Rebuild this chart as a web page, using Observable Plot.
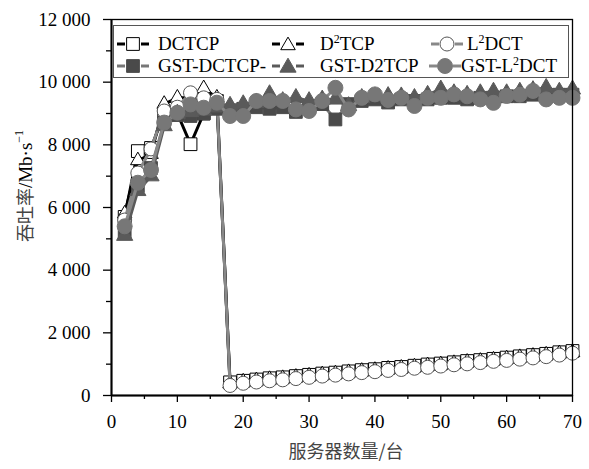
<!DOCTYPE html>
<html><head><meta charset="utf-8">
<script src="https://cdn.jsdelivr.net/npm/d3@7"></script>
<script src="https://cdn.jsdelivr.net/npm/@observablehq/plot@0.6"></script>
<style>
html,body{margin:0;padding:0;background:#fff;}
#wrap{position:relative;width:589px;height:469px;font-family:"Liberation Serif","Times New Roman",Times,"DejaVu Serif",serif;}
#wrap svg text{font-family:"Liberation Serif","Times New Roman",Times,"DejaVu Serif",serif !important;}
.lab{position:absolute;font-size:19px;color:#000;white-space:nowrap;line-height:20px;}
.cjk{color:#444;font-family:"Noto Sans CJK SC",sans-serif;font-size:18px;}
#legend{position:absolute;left:113px;top:25px;width:456px;height:53px;border:1px solid #555;box-sizing:border-box;background:#fff;}
.sym{position:absolute;}
.txt{position:absolute;font-size:19px;line-height:20px;white-space:nowrap;}
sup{font-size:12px;vertical-align:top;line-height:12px;position:relative;top:-1px;}
</style></head>
<body>
<div id="wrap"></div>
<script>
const xs = [2,4,6,8,10,12,14,16,18,20,22,24,26,28,30,32,34,36,38,40,42,44,46,48,50,52,54,56,58,60,62,64,66,68,70];
const seriesNames = ["DCTCP","D²TCP","L²DCT","GST-DCTCP","GST-D2TCP","GST-L²DCT"];
const dctcp  = [5700,7800,7900,9000,9000,8020,9000,9400,420,470,510,550,580,620,660,700,730,770,810,840,880,910,950,990,1020,1060,1100,1130,1170,1210,1250,1290,1330,1380,1420];
const d2tcp  = [5800,7500,7700,9300,9500,9500,9800,9500,380,440,480,520,550,590,630,670,700,740,780,810,850,880,920,960,990,1030,1070,1100,1140,1180,1220,1260,1300,1340,1380];
const l2dct  = [5600,7100,7870,9080,9200,9660,9500,9450,320,390,430,470,500,540,580,620,650,690,730,760,800,830,870,900,940,980,1010,1050,1090,1120,1160,1200,1240,1290,1350];
const gstDctcp = [5200,6700,7260,8700,8950,8920,9000,9150,9100,9150,9200,9150,9200,9050,9200,9300,8810,9300,9400,9450,9350,9450,9400,9450,9500,9500,9450,9500,9500,9550,9550,9600,9550,9600,9600];
const gstD2tcp = [5100,6530,7000,8600,9000,9050,9100,9200,9250,9300,9350,9620,9400,9500,9400,9450,9450,9240,9500,9550,9560,9550,9500,9600,9770,9650,9600,9650,9700,9650,9700,9750,9820,9700,9770];
const gstL2dct = [5400,6790,7200,8710,9025,9290,9185,9345,8920,8920,9400,9400,9400,9130,9080,9400,9820,9130,9500,9610,9430,9500,9240,9500,9500,9610,9550,9450,9340,9560,9600,9720,9450,9500,9500];
const seriesValues = [dctcp,d2tcp,l2dct,gstDctcp,gstD2tcp,gstL2dct];
const xTicks = [0,10,20,30,40,50,60,70];
const xMinor = [5,15,25,35,45,55,65];
const yTicks = [0,2000,4000,6000,8000,10000,12000];
const yMinor = [1000,3000,5000,7000,9000,11000];
const xLabel = "服务器数量/台";

const styles = [
  {symbol:"square",   fill:"#fff",   stroke:"#000", line:"#000",    r:7.2},
  {symbol:"triangle", fill:"#fff",   stroke:"#000", line:"#000",    r:5.4},
  {symbol:"circle",   fill:"#fff",   stroke:"#555", line:"#888",    r:7},
  {symbol:"square",   fill:"#4a4a4a",stroke:"#4a4a4a", line:"#777", r:7.2},
  {symbol:"triangle", fill:"#5a5a5a",stroke:"#5a5a5a", line:"#5a5a5a", r:6},
  {symbol:"circle",   fill:"#777",   stroke:"#777", line:"#888",    r:7.5}
];

const rows = seriesNames.map((name,i)=> xs.map((x,j)=>({series:name, x, y:seriesValues[i][j]})));
const fmt = d3.formatLocale({decimal:".", thousands:" ", grouping:[3], currency:["",""]}).format(",");

const marks = [];
rows.forEach((data,i)=>{
  const s = styles[i];
  marks.push(Plot.line(data,{x:"x",y:"y",stroke:s.line,strokeWidth:3}));
  marks.push(Plot.dot(data,{x:"x",y:"y",symbol:()=>s.symbol,r:s.r,fill:s.fill,stroke:s.stroke,strokeWidth:1}));
});

const chart = Plot.plot({
  width:589, height:469,
  marginLeft:111, marginRight:17, marginTop:19, marginBottom:74,
  x:{domain:[0,70]},
  y:{domain:[0,12000]},
  symbol:{domain:["square","triangle","circle"],range:["square","triangle","circle"]},
  style:{fontFamily:'"Liberation Serif","Times New Roman",Times,"DejaVu Serif",serif', fontSize:"19px", color:"#000", background:"#fff"},
  marks:[
    ...marks,
    Plot.axisX({ticks:xTicks, tickSize:7, tickPadding:12, tickFormat:d=>String(d), label:null, fontSize:19, strokeWidth:1.3}),
    Plot.axisX({ticks:xMinor, tickSize:4, tickFormat:()=>"", label:null, strokeWidth:1.3}),
    Plot.axisY({ticks:yTicks, tickSize:8, tickPadding:13, tickFormat:fmt, label:null, fontSize:19, strokeWidth:1.3}),
    Plot.axisY({ticks:yMinor, tickSize:5, tickFormat:()=>"", label:null, strokeWidth:1.3}),
    Plot.frame({stroke:"#000", strokeWidth:1.3}),
    Plot.ruleX([0],{stroke:"#000",strokeWidth:2}),
    Plot.ruleY([0],{stroke:"#000",strokeWidth:2})
  ]
});

const wrap = document.getElementById("wrap");
wrap.appendChild(chart);

// axis labels
const xl = document.createElement("div");
xl.className = "lab cjk";
xl.textContent = xLabel;
xl.style.left = "346px"; xl.style.top = "440px"; xl.style.transform = "translateX(-50%)";
wrap.appendChild(xl);
const yl = document.createElement("div");
yl.className = "lab";
yl.innerHTML = '<span class="cjk">吞吐率</span>/Mb·s<sup>−1</sup>';
yl.style.left = "25px"; yl.style.top = "186px";
yl.style.transform = "translate(-50%,-50%) rotate(-90deg)";
wrap.appendChild(yl);

// legend
const legend = document.createElement("div");
legend.id = "legend";
wrap.appendChild(legend);
const symLeft = [2,157,316,2,157,314];
const txtLeft = [44,206,353,44,206,347];
const rowTop = [8,8,8,30,30,30];
const legendText = ["DCTCP","D<sup>2</sup>TCP","L<sup>2</sup>DCT","GST-DCTCP-","GST-D2TCP","GST-L<sup>2</sup>DCT"];
function symPath(sym,r){
  const size = Math.PI*r*r;
  const t = sym==="square"?d3.symbolSquare:sym==="triangle"?d3.symbolTriangle:d3.symbolCircle;
  return d3.symbol(t,size)();
}
seriesNames.forEach((n,i)=>{
  const s = styles[i];
  const ty = s.symbol==="triangle" ? 11.5 : 10;
  const sv = document.createElement("div");
  sv.className = "sym";
  sv.style.left = symLeft[i]+"px"; sv.style.top = rowTop[i]+"px";
  sv.innerHTML = `<svg width="34" height="20" style="display:block"><line x1="1" x2="9" y1="10" y2="10" stroke="${s.line}" stroke-width="3"/><line x1="25" x2="33" y1="10" y2="10" stroke="${s.line}" stroke-width="3"/><path transform="translate(17,${ty})" d="${symPath(s.symbol,s.r)}" fill="${s.fill}" stroke="${s.stroke}" stroke-width="1"/></svg>`;
  legend.appendChild(sv);
  const tx = document.createElement("div");
  tx.className = "txt";
  tx.style.left = txtLeft[i]+"px"; tx.style.top = rowTop[i]+"px";
  tx.innerHTML = legendText[i];
  legend.appendChild(tx);
});
</script>
</body></html>
